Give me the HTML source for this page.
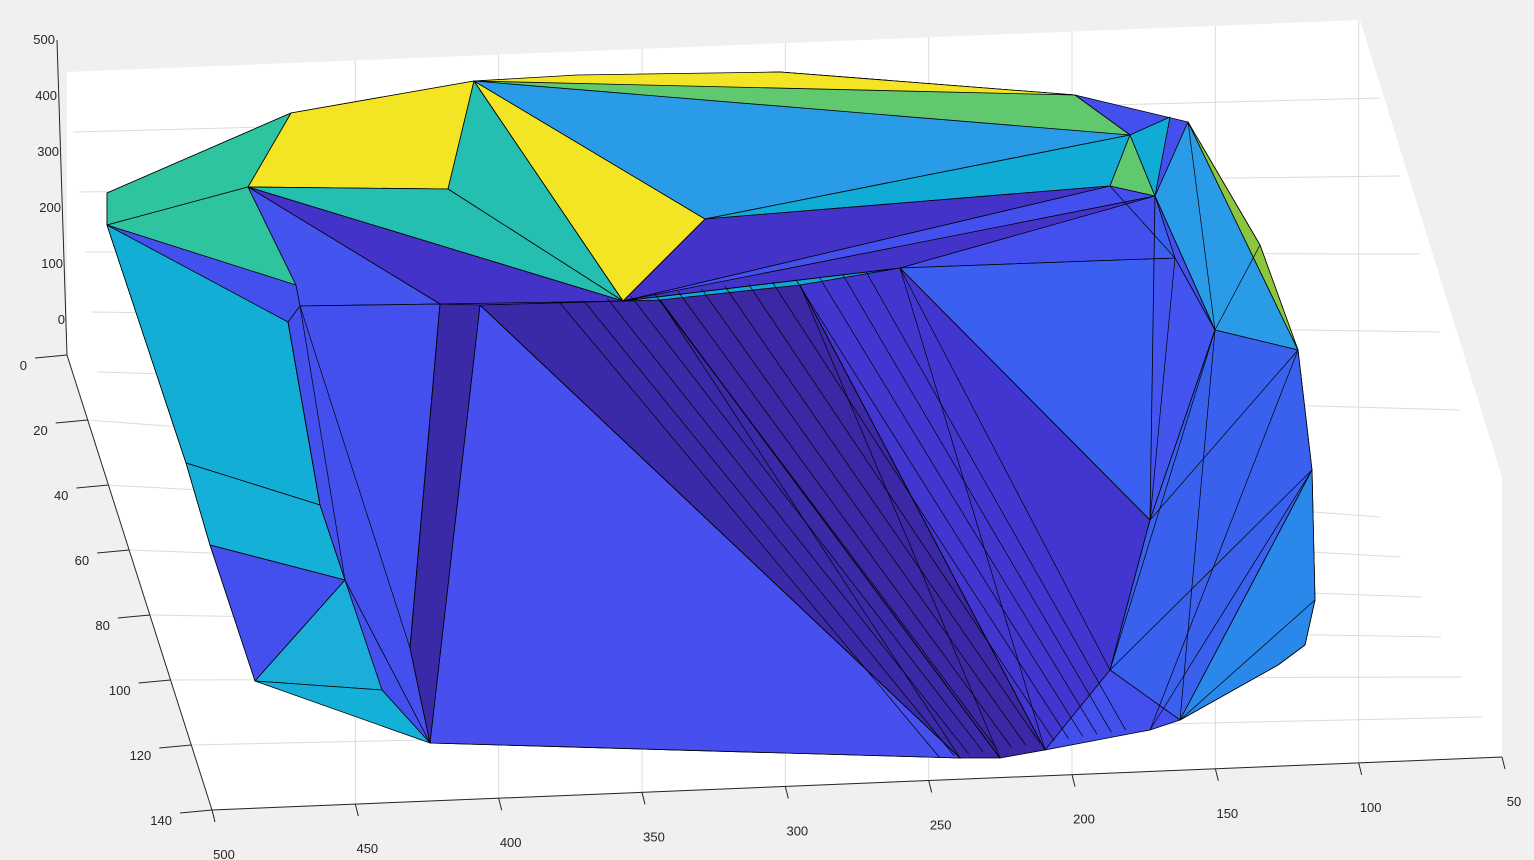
<!DOCTYPE html>
<html><head><meta charset="utf-8"><style>
html,body{margin:0;padding:0;background:#f0f0f0;}
svg{display:block;font-family:"Liberation Sans",sans-serif;font-size:13px;fill:#262626;}
</style></head><body>
<svg id="chart" width="1534" height="860" viewBox="0 0 1534 860">
<polygon points="67,72 1360,20 1502,477 1502,757 212,810 67,355" fill="#fff"/>
<g id="grid" stroke="#dcdcdc" stroke-width="1" fill="none"></g>
<g id="axesLines" stroke="#262626" stroke-width="1" fill="none">
<line x1="67" y1="355" x2="212" y2="810"/>
<line x1="212" y1="810" x2="1502" y2="757"/>
<line x1="57" y1="40" x2="67" y2="355"/>
</g>
<g id="surf" stroke="#000" stroke-width="0.8" stroke-linejoin="round"></g>
<g id="mesh" stroke="#000" stroke-width="0.7" fill="none"></g>
<g id="labels"></g>
</svg>
<script>
const NS="http://www.w3.org/2000/svg";
// vertices of the surface (projected)
const vx=[107,107,291,248,474,448,705,623,577,780,1075,1130,1110,1155,1170,1188,1260,1298,1312,1315,1305,1278,1180,1150,1045,960,430,382,255,210,186,288,296,300,440,900,1175,1215,320,345,410,480,660,800,1110,1150,1000];
const vy=[193,225,113,187,81,189,219,301,75,72,95,135,186,196,117,122,245,350,470,600,645,665,720,730,750,758,743,690,681,545,463,322,285,306,304,268,258,330,505,580,648,305,300,285,670,520,758];
// outline of the whole surface (vertex indices), drawn first as backing
const outline=[0,2,4,9,10,15,16,17,18,19,20,21,22,23,24,25,26,27,28,29,30,1];
const faces=[
[3,2,4,5],[4,5,7],[4,6,7],[3,5,7],[3,34,7],[4,10,11,6],[4,9,10,11],[4,8,9,10],[6,11,12],[6,12,7],[7,45,35],[7,13,35],
[12,11,13],[11,14,13],[13,15,17,37],[15,16,17],[0,2,3,1],[1,3,32],[3,32,33,34],
[1,31,38,30],[30,38,39,29],[29,39,28],[28,39,27],[28,27,26],[31,33,34,40,26,39,38],
[41,26,25],[41,42,46,25],[42,43,24,46],[43,35,45,44,24],[35,36,37,45],[37,17,18,22,44,45],
[18,19,20,21,22],[45,13,36,35],[34,41,26,40]];
const fcol=["#f4e524","#24bfb0","#f4e524","#24bfb0","#4433c8","#2a9be6","#60c86e","#f4e524","#10acd6","#4433c8","#10a8d8","#4433c8",
"#60c86e","#10acd6","#2a9be6","#8cc63e","#2fc4a0","#2fc4a0","#4454ef",
"#13aed6","#15b0d8","#4450ee","#1aaed8","#15b0d8","#4450ee",
"#4750ee","#3a2aa8","#3c28a5","#4236d0","#4454ef","#3a60ee",
"#2a88ea","#3b5ff0","#3a2aa8"];
// decorative mesh edges (vertex index pairs)
const edges=[[41,25],[42,25],[42,46],[43,46],[43,24],[35,44],[35,24],[36,45],[37,22],[37,44],[17,23],[18,44],[17,45],[16,37],[15,37],[34,40],[33,40],[33,39],[31,38],[4,7],[12,36],[13,37],[18,23],[19,22]];
const surf=document.getElementById('surf');
const back=document.createElementNS(NS,'polygon');
back.setAttribute('points',outline.map(k=>vx[k]+','+vy[k]).join(' '));
back.setAttribute('fill','#4450ee');


surf.appendChild(back);
faces.forEach((f,i)=>{const p=document.createElementNS(NS,'polygon');
p.setAttribute('points',f.map(k=>vx[k]+','+vy[k]).join(' '));
p.setAttribute('fill',fcol[i]);


surf.appendChild(p);});
const mesh=document.getElementById('mesh');
edges.forEach(e=>{const l=document.createElementNS(NS,'line');
l.setAttribute('x1',vx[e[0]]);l.setAttribute('y1',vy[e[0]]);l.setAttribute('x2',vx[e[1]]);l.setAttribute('y2',vy[e[1]]);


mesh.appendChild(l);});
for(let t=0;t<14;t++){const a=t/14;const l=document.createElementNS(NS,'line');
l.setAttribute('x1',560+a*330);l.setAttribute('y1',303-a*33);l.setAttribute('x2',940+a*200);l.setAttribute('y2',758-a*30);


mesh.appendChild(l);}
// axis ticks
const xTicks=["500","450","400","350","300","250","200","150","100","50"];
const yTicks=["0","20","40","60","80","100","120","140"];
const zTicks=["500","400","300","200","100","0"];
const grid=document.getElementById('grid'),lab=document.getElementById('labels');
function line(g,x1,y1,x2,y2,name){const l=document.createElementNS(NS,'line');
l.setAttribute('x1',x1);l.setAttribute('y1',y1);l.setAttribute('x2',x2);l.setAttribute('y2',y2);


g.appendChild(l);}
function text(x,y,s,name,anchor){const t=document.createElementNS(NS,'text');
t.setAttribute('x',x);t.setAttribute('y',y);t.setAttribute('text-anchor',anchor);t.textContent=s;


lab.appendChild(t);}
xTicks.forEach((s,i)=>{const a=i/(xTicks.length-1);const x=212+a*1290,y=810-a*53;
if(i>0&&i<xTicks.length-1){line(grid,x,y,x,72-52*((x-67)/1293),'x-grid-line');}
line(document.getElementById('axesLines'),x,y,x+3,y+12,'x-tick');
text(x+12,y+49,s,'x-tick-label','middle');});
yTicks.forEach((s,i)=>{const a=i/(yTicks.length-1);const x=67+a*145,y=355+a*455;
if(i>0)line(grid,x,y,1360+a*142,477+a*280,'y-grid-line');
line(document.getElementById('axesLines'),x,y,x-32,y+3,'y-tick');
text(x-40,y+15,s,'y-tick-label','end');});
zTicks.forEach((s,i)=>{const a=i/(zTicks.length-1);const x=57+a*10,y=40+a*280;
if(i>0)line(grid,x+10+a*20,y+32+a*20,1360+a*100,20+a*390,'z-grid-line');
text(x-2,y+4,s,'z-tick-label','end');});
</script>
</body></html>
